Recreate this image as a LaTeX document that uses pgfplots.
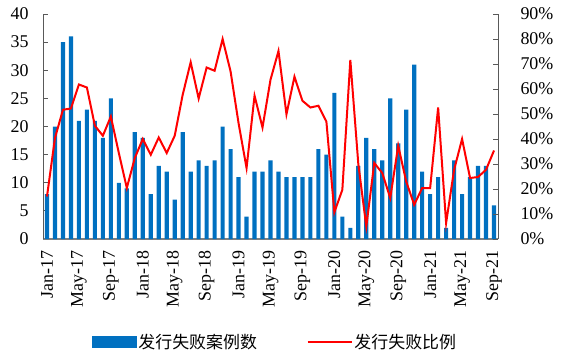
\documentclass[border=0pt]{standalone}
\usepackage{pgfplots}
\usepackage{pgfplotstable}
\pgfplotsset{compat=1.18}
\usepackage{fontspec}
\setmainfont{Liberation Serif}
\newfontfamily\cjk{Noto Sans CJK SC}
\definecolor{barblue}{HTML}{0070C0}
\definecolor{axgray}{HTML}{595959}
\pgfplotstableread{
x n r
0 8 17
1 20 40.4
2 35 51.7
3 36 52.2
4 21 61.8
5 23 60.6
6 21 45.3
7 18 41.3
8 25 49
9 10 34.4
10 9 20.4
11 19 32.4
12 18 40
13 8 33.7
14 13 40.6
15 12 34.4
16 7 41.3
17 19 57.7
18 12 70.7
19 14 56.2
20 13 68.6
21 14 67.3
22 20 80
23 16 67
24 11 46.3
25 4 28.4
26 12 57.3
27 12 44.6
28 14 63.7
29 12 75.2
30 11 49.9
31 11 64.9
32 11 55.3
33 11 52.6
34 16 53.3
35 15 47
36 26 10.7
37 4 19.7
38 2 71.6
39 13 30
40 18 5
41 16 30.4
42 14 26.4
43 25 16.4
44 17 37.3
45 23 23
46 31 13.7
47 12 20.4
48 8 20.4
49 11 52.6
50 2 6.4
51 14 27.7
52 8 40
53 11 24.4
54 13 24.8
55 13 27.7
56 6 35.4
}\data
\begin{document}
\begin{tikzpicture}
\pgfplotsset{
  common/.style={
    scale only axis, width=455bp, height=225bp,
    at={(0,0)}, anchor=south west,
    xmin=-0.5, xmax=56.5,
    tick align=inside,
    /pgf/number format/assume math mode=true,
    tick label style={font=\fontsize{18}{18}\selectfont, black},
    axis line style={axgray, line width=0.8bp},
    tick style={axgray, line width=0.8bp},
  }
}
\path[use as bounding box] (-43bp,-125bp) rectangle (527bp,239bp);
\begin{axis}[common,
  ymin=0, ymax=40,
  axis y line*=left, axis x line*=bottom,
  x axis line style={-, line width=1.3bp, color=gray},
  y axis line style={-},
  ytick={0,5,...,40},
  major tick length=5bp,
  yticklabel style={xshift=-11bp},
  xtick={0,4,...,56},
  xticklabels={Jan-17,May-17,Sep-17,Jan-18,May-18,Sep-18,Jan-19,May-19,Sep-19,Jan-20,May-20,Sep-20,Jan-21,May-21,Sep-21},
  x tick label style={rotate=90, anchor=east, xshift=-8bp},
  major x tick style={draw=none},
  extra x ticks={3.5,7.5,...,55.5},
  extra x tick labels={},
  extra x tick style={major tick length=4bp, tick style={draw=axgray, line width=1bp}},
]
\addplot[ybar, bar width=0.52, fill=barblue, draw=none] table[x=x,y=n]{\data};
\end{axis}
\begin{axis}[common,
  ymin=0, ymax=90,
  axis y line*=right, axis x line=none,
  y axis line style={-},
  ytick={0,10,...,90},
  major tick length=5bp,
  yticklabel={\pgfmathprintnumber{\tick}\%},
  yticklabel style={xshift=19bp},
  legend style={at={(0.51,-0.458)}, anchor=center, draw=none, fill=none,
    legend columns=2, font=\cjk\fontsize{17}{17}\selectfont,
    /tikz/every even column/.append style={column sep=48bp},
    legend cell align=left},
]
\addlegendimage{legend image code/.code={\fill[barblue] (0bp,-5.5bp) rectangle (44bp,5.5bp);}}
\addlegendentry{发行失败案例数}
\addplot[red, line width=2bp, mark=none,
  legend image code/.code={\draw[red, line width=1.5bp] (0bp,0bp) -- (44bp,0bp);}] table[x=x,y=r]{\data};
\addlegendentry{发行失败比例}
\end{axis}
\end{tikzpicture}
\end{document}
